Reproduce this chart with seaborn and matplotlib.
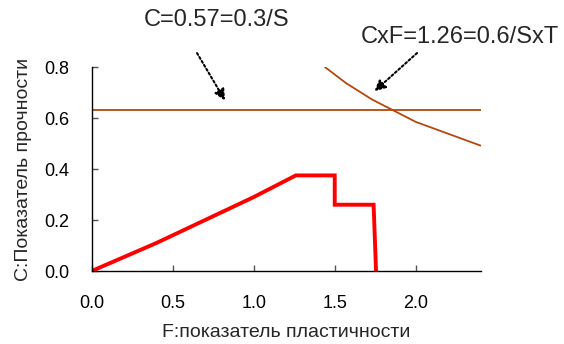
import matplotlib
matplotlib.use("Agg")
import matplotlib.pyplot as plt
import seaborn as sns
import pandas as pd

# Strength index C as a function of plasticity index F (stepped limit curve)
limit_f = [0.0, 0.4, 1.0, 1.26, 1.5, 1.5, 1.74, 1.755]
limit_c = [0.0, 0.11, 0.29, 0.375, 0.375, 0.26, 0.26, 0.0]

# Constant-strength level C
level_c = 0.63
level_f = [0.0, 2.4]

# Product criterion C x F
prod_f = [1.44, 1.57, 1.73, 2.0, 2.4]
prod_c = [0.80, 0.737, 0.673, 0.585, 0.492]

x_ticks = [0.0, 0.5, 1.0, 1.5, 2.0]
y_ticks = [0.0, 0.2, 0.4, 0.6, 0.8]

label_level = "C=0.57=0.3/S"
label_prod = "CxF=1.26=0.6/SxT"

sns.set_style("ticks")
plt.rcParams["font.family"] = ["Liberation Sans", "DejaVu Sans"]

fig = plt.figure(figsize=(5.64, 3.44), dpi=100)
ax = fig.add_axes([0.1626, 0.2122, 0.852 - 0.1626, 0.805 - 0.2122])

brown = "#B5470F"
df_level = pd.DataFrame({"F": level_f, "C": [level_c, level_c]})
df_prod = pd.DataFrame({"F": prod_f, "C": prod_c})
df_limit = pd.DataFrame({"F": limit_f, "C": limit_c})

sns.lineplot(data=df_level, x="F", y="C", ax=ax, color=brown, lw=1.3,
             sort=False, estimator=None)
sns.lineplot(data=df_prod, x="F", y="C", ax=ax, color=brown, lw=1.3,
             sort=False, estimator=None)
sns.lineplot(data=df_limit, x="F", y="C", ax=ax, color="#FF0000", lw=2.8,
             sort=False, estimator=None, solid_joinstyle="miter")

ax.set_xlim(0, 2.4)
ax.set_ylim(0, 0.8)
ax.set_xticks(x_ticks)
ax.set_yticks(y_ticks)
ax.set_xticklabels([f"{v:.1f}" for v in x_ticks])
ax.set_yticklabels([f"{v:.1f}" for v in y_ticks])

for s in ("top", "right"):
    ax.spines[s].set_visible(False)
for s in ("left", "bottom"):
    ax.spines[s].set_color("black")
    ax.spines[s].set_linewidth(1.0)

ax.tick_params(axis="x", direction="in", length=4.5, width=1, color="#555555",
               pad=17, labelsize=13, labelcolor="black")
ax.tick_params(axis="y", direction="in", length=4.5, width=1, color="#555555",
               pad=16, labelsize=13, labelcolor="black")

ax.set_xlabel("F:показатель пластичности", fontsize=14, labelpad=9)
ax.set_ylabel("С:Показатель прочности", fontsize=14, labelpad=9)

arrow = dict(arrowstyle="-|>", linestyle=(0, (1, 1.2)), color="black", lw=1.5,
             mutation_scale=16, shrinkA=0, shrinkB=0)
ax.annotate("", xy=(0.823, 0.669), xytext=(0.65, 0.855), arrowprops=arrow,
            annotation_clip=False)
ax.annotate("", xy=(1.745, 0.705), xytext=(2.008, 0.855), arrowprops=arrow,
            annotation_clip=False)

ax.text(0.773, 0.984, label_level, fontsize=17, ha="center", va="center",
        clip_on=False)
ax.text(2.275, 0.919, label_prod, fontsize=17, ha="center", va="center",
        clip_on=False)

fig.savefig("out.png", dpi=100)
